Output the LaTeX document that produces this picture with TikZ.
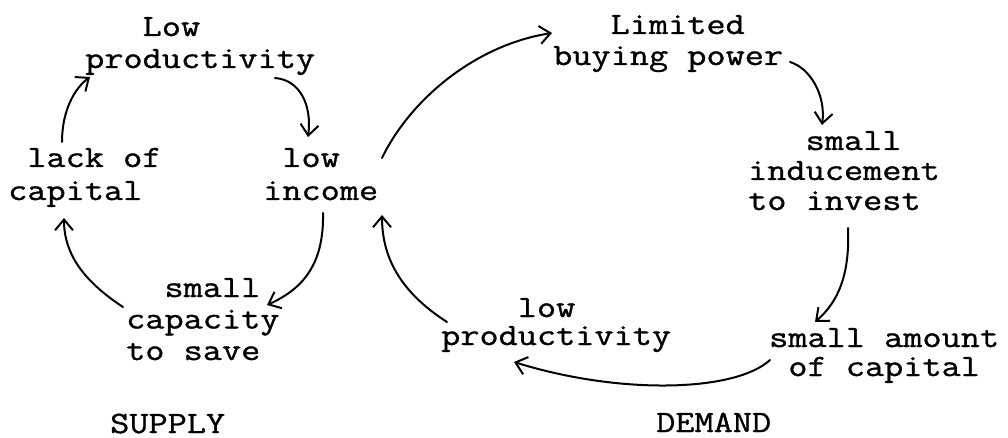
\documentclass[tikz,border=0pt]{standalone}
\usepackage{fontspec}
% typewriter-like face, widened to the pitch of the typed labels
\newfontfamily\typewriter{lmmono12-regular.otf}[FakeStretch=1.2,FakeBold=1]
\usetikzlibrary{arrows.meta}
\begin{document}
\begin{tikzpicture}[x=1pt,y=-1pt,
  txt/.style={anchor=base west, inner sep=0pt, align=left,
              font=\typewriter\fontsize{31}{#1}\selectfont},
  txt/.default=32,
  cause/.style={line width=2pt, line cap=round,
                -{Straight Barb[angle=80:14pt]}}]
\useasboundingbox (0,0) rectangle (1008,438);

% labels are placed by the baseline of their last line

% ---- supply side: the vicious circle of saving ----
\node[txt=32]   (lowprodS) at (85,68)   {\phantom{xxx}Low\\productivity};
\node[txt=33]   (lackcap)  at (8,200)   {\phantom{x}lack of\\capital};
\node[txt=33]   (lowinc)   at (263,200) {\phantom{x}low\\income};
\node[txt=31.5] (capsave)  at (126,360) {\phantom{xx}small\\capacity\\to save};
\node[txt] (supply) at (110,433) {SUPPLY};

% ---- demand side: the vicious circle of investment ----
\node[txt=31] (buying)   at (553,65)  {\phantom{xxx}Limited\\buying power};
\node[txt=30] (induce)   at (748,210) {\phantom{xxx}small\\inducement\\to invest};
\node[txt=29] (amount)   at (769,376) {small amount\\\phantom{x}of capital};
\node[txt=28] (lowprodD) at (441,345) {\phantom{xxxx}low\\productivity};
\node[txt] (demand) at (656,432) {DEMAND};

% ---- supply loop ----
\draw[cause] ([shift={(54,-58)}]lackcap.base west)
  .. controls (62,110) and (75,88) .. ([shift={(5,9)}]lowprodS.base west);
\draw[cause] ([shift={(190,10)}]lowprodS.base west)
  .. controls (300,80) and (312,105) .. ([shift={(45,-63)}]lowinc.base west);
\draw[cause] ([shift={(60,13)}]lowinc.base west)
  .. controls (324,262) and (305,288) .. ([shift={(141,-55)}]capsave.base west);
\draw[cause] ([shift={(-3,-53)}]capsave.base west)
  .. controls (85,282) and (64,255) .. ([shift={(56,18)}]lackcap.base west);

% ---- demand loop ----
\draw[cause] ([shift={(119,-42)}]lowinc.base west)
  .. controls (410,100) and (475,45) .. ([shift={(-1,-32)}]buying.base west);
\draw[cause] ([shift={(237,-3)}]buying.base west)
  .. controls (810,68) and (826,95) .. ([shift={(74,-85)}]induce.base west);
\draw[cause] ([shift={(100,18)}]induce.base west)
  .. controls (850,275) and (838,302) .. ([shift={(46,-54)}]amount.base west);
\draw[cause] ([shift={(1,-16)}]amount.base west)
  .. controls (735,392) and (620,395) .. ([shift={(73,17)}]lowprodD.base west);
\draw[cause] ([shift={(6,-23)}]lowprodD.base west)
  .. controls (405,295) and (382,262) .. ([shift={(119,15)}]lowinc.base west);
\end{tikzpicture}
\end{document}
